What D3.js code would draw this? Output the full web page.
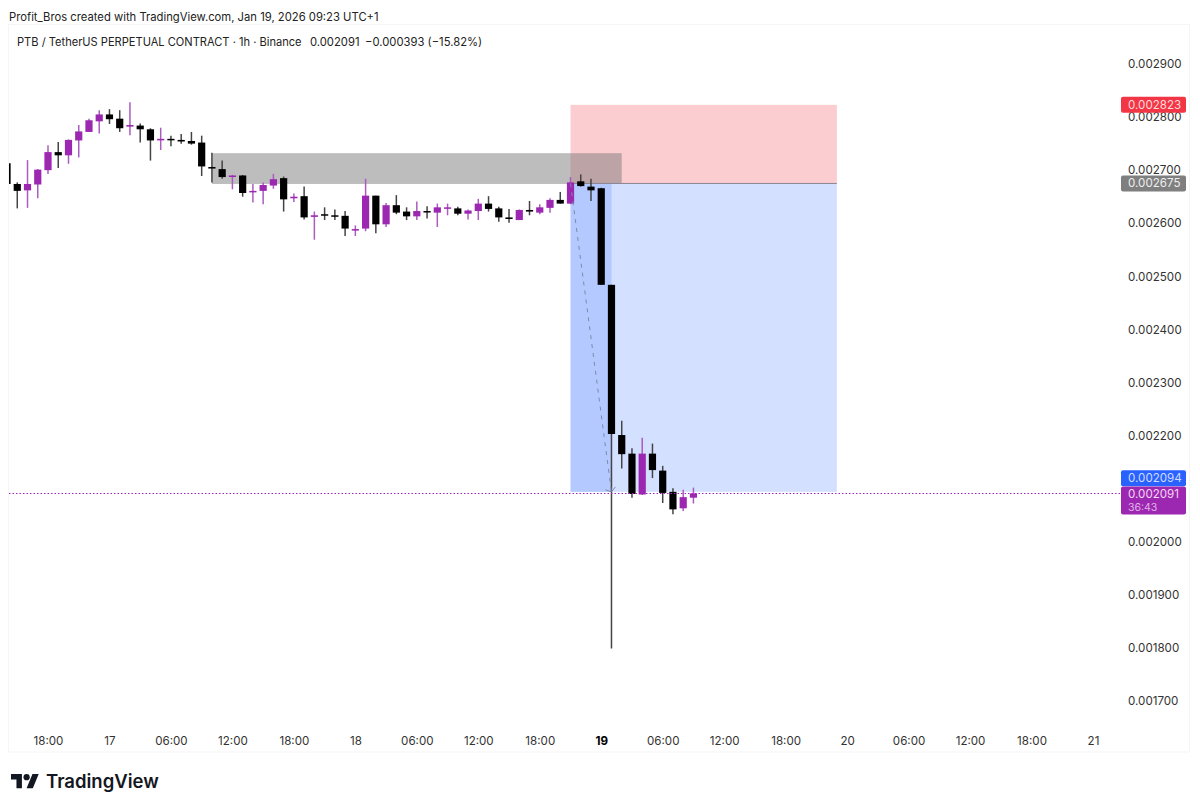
<!DOCTYPE html>
<html>
<head>
<meta charset="utf-8">
<title>PTB / TetherUS 1h</title>
<script src="https://cdn.jsdelivr.net/npm/d3@7"></script>
<style>
  html, body { margin: 0; padding: 0; background: #fff; }
  svg { display: block; font-family: Inter, "Liberation Sans", sans-serif; }
  .axis path, .axis line { display: none; }
  .axis text { font-family: Inter, "Liberation Sans", sans-serif; font-size: 11.6px; fill: #333; }
</style>
</head>
<body>
<svg id="chart" width="1200" height="809"></svg>
<script>
// hourly bars, first one is Jan 16 14:00 (chart time, UTC+1)
const firstBar = Date.UTC(2026, 0, 16, 14);

const opens = [0.002713,0.002674,0.002662,0.002673,0.002700,0.002734,0.002728,0.002756,0.002772,0.002792,0.002805,0.002797,0.002782,0.002784,0.002777,0.002757,0.002759,0.002757,0.002755,0.002752,0.002706,0.002702,0.002688,0.002690,0.002659,0.002661,0.002671,0.002685,0.002647,0.002651,0.002612,0.002617,0.002615,0.002614,0.002587,0.002590,0.002652,0.002598,0.002634,0.002622,0.002613,0.002623,0.002620,0.002628,0.002628,0.002618,0.002623,0.002637,0.002628,0.002611,0.002606,0.002625,0.002620,0.002629,0.002644,0.002637,0.002679,0.002669,0.002666,0.002484,0.002201,0.002166,0.002089,0.002166,0.002134,0.002094,0.002063,0.002083];
const highs = [0.002720,0.002677,0.002719,0.002702,0.002747,0.002753,0.002758,0.002785,0.002797,0.002813,0.002815,0.002813,0.002828,0.002788,0.002779,0.002780,0.002765,0.002768,0.002772,0.002765,0.002733,0.002718,0.002691,0.002691,0.002674,0.002677,0.002693,0.002688,0.002656,0.002669,0.002622,0.002630,0.002626,0.002623,0.002596,0.002684,0.002652,0.002638,0.002653,0.002630,0.002641,0.002632,0.002637,0.002637,0.002631,0.002626,0.002646,0.002651,0.002631,0.002627,0.002626,0.002642,0.002636,0.002647,0.002659,0.002687,0.002692,0.002684,0.002667,0.002484,0.002228,0.002176,0.002196,0.002185,0.002143,0.002101,0.002098,0.002102];
const lows = [0.002665,0.002628,0.002629,0.002647,0.002693,0.002704,0.002712,0.002724,0.002772,0.002769,0.002787,0.002772,0.002766,0.002752,0.002718,0.002738,0.002745,0.002750,0.002748,0.002689,0.002677,0.002684,0.002664,0.002650,0.002639,0.002636,0.002665,0.002622,0.002640,0.002607,0.002569,0.002606,0.002606,0.002576,0.002576,0.002585,0.002581,0.002593,0.002617,0.002606,0.002606,0.002609,0.002593,0.002615,0.002615,0.002607,0.002606,0.002622,0.002603,0.002601,0.002606,0.002615,0.002617,0.002620,0.002637,0.002636,0.002669,0.002642,0.002484,0.001799,0.002138,0.002083,0.002088,0.002120,0.002073,0.002052,0.002058,0.002072];
const closes = [0.002674,0.002661,0.002674,0.002701,0.002734,0.002728,0.002757,0.002773,0.002794,0.002805,0.002796,0.002779,0.002785,0.002777,0.002756,0.002759,0.002757,0.002754,0.002750,0.002707,0.002703,0.002687,0.002690,0.002657,0.002661,0.002672,0.002683,0.002645,0.002650,0.002611,0.002615,0.002615,0.002613,0.002590,0.002589,0.002652,0.002598,0.002634,0.002620,0.002613,0.002623,0.002621,0.002630,0.002630,0.002618,0.002624,0.002637,0.002627,0.002611,0.002608,0.002625,0.002622,0.002630,0.002644,0.002637,0.002677,0.002670,0.002662,0.002484,0.002203,0.002165,0.002090,0.002166,0.002135,0.002092,0.002061,0.002084,0.002091];

// 0.002100 is left out, the price labels cover it in the chart
const priceTicks = [0.0029,0.0028,0.0027,0.0026,0.0025,0.0024,0.0023,0.0022,0.0020,0.0019,0.0018,0.0017];

const timeTicks = [
  [Date.UTC(2026,0,16,18), "18:00"], [Date.UTC(2026,0,17,0), "17"], [Date.UTC(2026,0,17,6), "06:00"],
  [Date.UTC(2026,0,17,12), "12:00"], [Date.UTC(2026,0,17,18), "18:00"], [Date.UTC(2026,0,18,0), "18"],
  [Date.UTC(2026,0,18,6), "06:00"], [Date.UTC(2026,0,18,12), "12:00"], [Date.UTC(2026,0,18,18), "18:00"],
  [Date.UTC(2026,0,19,0), "19"], [Date.UTC(2026,0,19,6), "06:00"], [Date.UTC(2026,0,19,12), "12:00"],
  [Date.UTC(2026,0,19,18), "18:00"], [Date.UTC(2026,0,20,0), "20"], [Date.UTC(2026,0,20,6), "06:00"],
  [Date.UTC(2026,0,20,12), "12:00"], [Date.UTC(2026,0,20,18), "18:00"], [Date.UTC(2026,0,21,0), "21"]
];

// drawings on the chart
const zoneTimes = [Date.UTC(2026,0,17,10), Date.UTC(2026,0,19,2)];
const zonePrices = [0.002732, 0.002674];
const positionTimes = [Date.UTC(2026,0,18,21), Date.UTC(2026,0,19,23)];
const stopPrice = 0.002823, entryPrice = 0.002675, targetPrice = 0.002094, lastPrice = 0.002091;
const rangeEnd = Date.UTC(2026,0,19,1);

const purple = "#9c27b0", black = "#000";

const svg = d3.select("#chart");

const x = d3.scaleUtc()
  .domain([Date.UTC(2026,0,16,18), Date.UTC(2026,0,21,0)])
  .range([48, 1093]);
const y = d3.scaleLinear().domain([0.0029, 0.0017]).range([64, 701]);

// faint frame
svg.append("rect").attr("x", 8.5).attr("y", 24.5).attr("width", 1181).attr("height", 727.5)
  .attr("fill", "none").attr("stroke", "#f5f5f5");

svg.append("defs").append("clipPath").attr("id", "plot").append("rect")
  .attr("x", 9).attr("y", 25).attr("width", 1104).attr("height", 700);

const plot = svg.append("g").attr("clip-path", "url(#plot)");

// long position tool, under the candles
const posX = x(positionTimes[0]), posW = x(positionTimes[1]) - posX;
plot.append("rect").attr("x", posX).attr("width", posW)
  .attr("y", y(stopPrice)).attr("height", y(entryPrice) - y(stopPrice))
  .attr("fill", "#f23645").attr("opacity", 0.25);
plot.append("rect").attr("x", posX).attr("width", posW)
  .attr("y", y(entryPrice)).attr("height", y(targetPrice) - y(entryPrice))
  .attr("fill", "#2962ff").attr("opacity", 0.2);
plot.append("rect").attr("x", posX).attr("width", x(rangeEnd) - posX)
  .attr("y", y(entryPrice)).attr("height", y(targetPrice) - y(entryPrice))
  .attr("fill", "#2962ff").attr("opacity", 0.18);

// supply zone
plot.append("rect")
  .attr("x", x(zoneTimes[0])).attr("width", x(zoneTimes[1]) - x(zoneTimes[0]))
  .attr("y", y(zonePrices[0])).attr("height", y(zonePrices[1]) - y(zonePrices[0]))
  .attr("fill", "#7b7b7b").attr("opacity", 0.5);

plot.append("line").attr("x1", posX).attr("x2", posX + posW)
  .attr("y1", y(entryPrice)).attr("y2", y(entryPrice))
  .attr("stroke", "#8a8494").attr("stroke-width", 1);

const bars = opens.map((o, i) => ({
  t: firstBar + i * 3600000, o, h: highs[i], l: lows[i], c: closes[i], up: closes[i] >= o
}));

plot.selectAll("line.wick").data(bars).join("line")
  .attr("class", "wick")
  .attr("x1", d => x(d.t)).attr("x2", d => x(d.t))
  .attr("y1", d => y(d.h)).attr("y2", d => y(d.l))
  .attr("stroke", d => d.up ? "#ab5cc0" : "#444")
  .attr("stroke-width", 1.5);

plot.selectAll("rect.body").data(bars).join("rect")
  .attr("class", "body")
  .attr("x", d => x(d.t) - 3.6).attr("width", 7.2)
  .attr("y", d => y(Math.max(d.o, d.c)))
  .attr("height", d => Math.max(1.5, Math.abs(y(d.o) - y(d.c))))
  .attr("fill", d => d.up ? purple : black);

// projected path with its small arrow
const endX = x(rangeEnd), endY = y(targetPrice);
plot.append("line").attr("x1", posX).attr("y1", y(entryPrice)).attr("x2", endX).attr("y2", endY)
  .attr("stroke", "#7f8aa8").attr("stroke-width", 1).attr("stroke-dasharray", "4 5");
plot.append("path")
  .attr("d", `M${endX - 6},${endY - 2}L${endX},${endY}L${endX + 4},${endY - 5}`)
  .attr("fill", "none").attr("stroke", "#7f8aa8").attr("stroke-width", 1);

// last price line
svg.append("line").attr("x1", 9).attr("x2", 1121)
  .attr("y1", Math.round(y(lastPrice)) + 0.5).attr("y2", Math.round(y(lastPrice)) + 0.5)
  .attr("stroke", "#a020c0").attr("stroke-width", 1).attr("stroke-dasharray", "1.5 2");

// axes
svg.append("g").attr("class", "axis").attr("transform", "translate(1128,0)")
  .call(d3.axisRight(y).tickValues(priceTicks).tickSize(0).tickPadding(0).tickFormat(d => d.toFixed(6)));

const xAxis = svg.append("g").attr("class", "axis").attr("transform", "translate(0,737)")
  .call(d3.axisBottom(x).tickValues(timeTicks.map(d => d[0])).tickSize(0).tickPadding(0)
    .tickFormat((d, i) => timeTicks[i][1]));
xAxis.selectAll("text").filter((d, i) => timeTicks[i][1] === "19")
  .style("font-weight", 700).style("fill", "#000");

// price labels on the scale
const priceLabels = [
  { p: stopPrice, fill: "#f23645", text: "#ffd9dc", dy: 0 },
  { p: entryPrice, fill: "#7f7f7f", text: "#eee", dy: 0 },
  { p: targetPrice, fill: "#2962ff", text: "#cfdcff", dy: -13.5 }
];
priceLabels.forEach(l => {
  const cy = y(l.p) + l.dy;
  svg.append("rect").attr("x", 1121).attr("y", cy - 8).attr("width", 65).attr("height", 16)
    .attr("rx", 2).attr("fill", l.fill);
  svg.append("text").attr("x", 1128).attr("y", cy + 4).attr("font-size", 11.6)
    .attr("fill", l.text).text(l.p.toFixed(6));
});
svg.append("rect").attr("x", 1121).attr("y", y(lastPrice) - 7).attr("width", 65).attr("height", 28)
  .attr("rx", 2).attr("fill", purple);
svg.append("text").attr("x", 1128).attr("y", y(lastPrice) + 5).attr("font-size", 11.6)
  .attr("fill", "#f3d6f8").text(lastPrice.toFixed(6));
svg.append("text").attr("x", 1128).attr("y", y(lastPrice) + 18).attr("font-size", 10.5)
  .attr("fill", "#e2b4ea").text("36:43");

// headers
svg.append("text").attr("x", 9).attr("y", 20.5).attr("font-size", 11.25).attr("fill", "#222")
  .text("Profit_Bros created with TradingView.com, Jan 19, 2026 09:23 UTC+1");
svg.append("text").attr("x", 17).attr("y", 46).attr("font-size", 11.1).attr("fill", "#222")
  .text("PTB / TetherUS PERPETUAL CONTRACT \u00b7 1h \u00b7 Binance");
svg.append("text").attr("x", 310).attr("y", 46).attr("font-size", 11.25).attr("fill", "#222")
  .text("0.002091");
svg.append("text").attr("x", 365).attr("y", 46).attr("font-size", 11.25).attr("fill", "#222")
  .text("\u22120.000393 (\u221215.82%)");

// logo
const logo = svg.append("g").attr("transform", "translate(11,771) scale(0.78)").attr("fill", "#131722");
logo.append("path").attr("d", "M14 22H7V11H0V4h14v18zM28 22h-8l7.5-18h8L28 22z");
logo.append("circle").attr("cx", 20).attr("cy", 8).attr("r", 4);
svg.append("text").attr("x", 46).attr("y", 788).attr("font-size", 18.5).attr("font-weight", 600)
  .attr("fill", "#131722").text("TradingView");
</script>
</body>
</html>
